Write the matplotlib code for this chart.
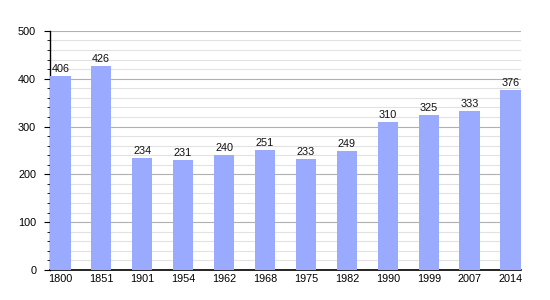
import matplotlib.pyplot as plt
from matplotlib.ticker import MultipleLocator

plt.switch_backend("Agg")
plt.rcParams["font.family"] = ["Liberation Sans", "DejaVu Sans"]

# Population by census year
years = ["1800", "1851", "1901", "1954", "1962", "1968",
         "1975", "1982", "1990", "1999", "2007", "2014"]
population = [406, 426, 234, 231, 240, 251, 233, 249, 310, 325, 333, 376]

BAR_COLOR = "#99aaff"
FS = 7.8

fig = plt.figure(figsize=(5.5, 3.0), dpi=100)
ax = fig.add_axes([0.091, 0.1, 0.856, 0.797])

x = list(range(len(years)))
ax.bar(x, population, width=0.5, color=BAR_COLOR, zorder=3)

# Value labels above bars
for xi, val in zip(x, population):
    ax.text(xi, val + 4, str(val), ha="center", va="bottom", fontsize=FS,
            color="#111111", zorder=4)

ax.set_xlim(-0.25, len(years) - 0.75)
ax.set_ylim(0, 500)
ax.set_xticks(x)
ax.set_xticklabels(years, fontsize=FS)

# Grid: light minor lines every 20, darker major every 100
ax.yaxis.set_major_locator(MultipleLocator(100))
ax.yaxis.set_minor_locator(MultipleLocator(20))
ax.grid(axis="y", which="major", color="#b0b0b0", linewidth=0.8, zorder=0)
ax.grid(axis="y", which="minor", color="#e2e2e2", linewidth=0.8, zorder=0)
ax.tick_params(axis="y", which="major", length=4, width=0.8, labelsize=FS, pad=6)
ax.tick_params(axis="y", which="minor", length=2, width=0.6)
ax.tick_params(axis="x", length=0, pad=3)

for side in ["top", "right"]:
    ax.spines[side].set_visible(False)
ax.spines["left"].set_linewidth(1.0)
ax.spines["bottom"].set_linewidth(1.2)

fig.savefig("out.png", dpi=100)
